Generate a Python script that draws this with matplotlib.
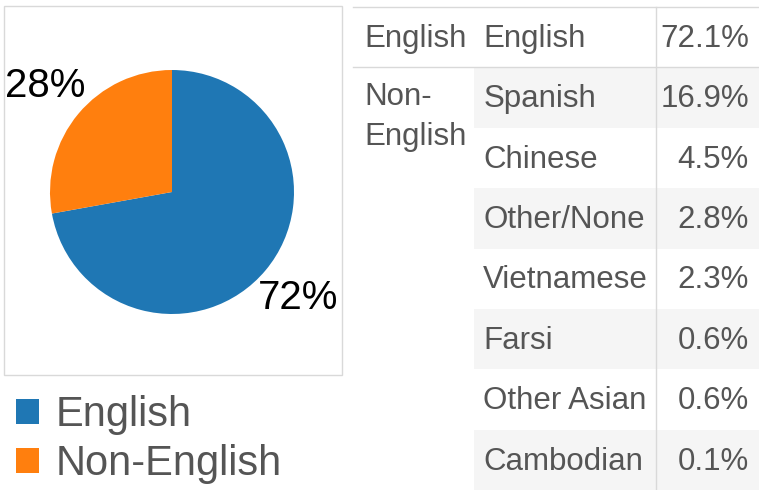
import matplotlib.pyplot as plt
from matplotlib.patches import Rectangle

plt.rcParams['font.family'] = ['Liberation Sans', 'DejaVu Sans']

# data
languages = ['English', 'Spanish', 'Chinese', 'Other/None', 'Vietnamese',
             'Farsi', 'Other Asian', 'Cambodian']
shares = [72.1, 16.9, 4.5, 2.8, 2.3, 0.6, 0.6, 0.1]
lang_group = ['English'] + ['Non-English'] * 7
groups = ['English', 'Non-English']
group_text = {'English': 'English', 'Non-English': 'Non-\nEnglish'}
colors = ['#1f77b4', '#ff7f0e']

group_vals = [sum(s for s, g in zip(shares, lang_group) if g == grp) for grp in groups]

W, H = 759, 490
fig = plt.figure(figsize=(W / 100, H / 100), dpi=100)


def px(x0, y0, w, h):
    return [x0 / W, 1 - (y0 + h) / H, w / W, h / H]


grey_line = '#d9d9d9'
txt_col = '#555555'

# box round the pie
fig.add_artist(Rectangle((4 / W, 1 - 375 / H), 338 / W, 369 / H,
                         transform=fig.transFigure, fill=False,
                         ec=grey_line, lw=1))

ax = fig.add_axes(px(172 - 122, 192 - 122, 244, 244))
wedges, texts, autotexts = ax.pie(group_vals, colors=colors, startangle=90,
                                  counterclock=False, autopct='%.0f%%',
                                  pctdistance=1.35,
                                  wedgeprops=dict(linewidth=0),
                                  textprops=dict(fontsize=29, color='black'))
ax.set_xlim(-1, 1)
ax.set_ylim(-1, 1)
ax.set_aspect('equal')

fig.legend(wedges, groups, loc='upper left',
           bbox_to_anchor=(16 / W, 1 - 395 / H), frameon=False,
           fontsize=30, labelcolor=txt_col, handlelength=0.56,
           handleheight=0.56, handletextpad=0.38, labelspacing=0.22,
           borderpad=0, borderaxespad=0)

# table
tax = fig.add_axes(px(353, 7, 406, 483))
n = len(languages)
tax.set_xlim(0, 1)
tax.set_ylim(n, 0)
tax.axis('off')
c1 = 121 / 406
c2 = 303 / 406

for i in range(n):
    if i % 2 == 1:
        tax.axhspan(i, i + 1, xmin=c1, xmax=1, color='#f5f5f5', lw=0)

tax.axhline(0, color=grey_line, lw=1, clip_on=False)
tax.axhline(1, color=grey_line, lw=1, clip_on=False)
tax.axvline(c2, color=grey_line, lw=1, clip_on=False)

prev = None
for i, (lang, val, grp) in enumerate(zip(languages, shares, lang_group)):
    if grp != prev:
        if '\n' in group_text[grp]:
            tax.text(0.028, i + 0.24, group_text[grp], fontsize=22.5,
                     color=txt_col, ha='left', va='top', linespacing=1.46)
        else:
            tax.text(0.028, i + 0.53, group_text[grp], fontsize=22.5,
                     color=txt_col, ha='left', va='center')
        prev = grp
    tax.text(0.321, i + 0.53, lang, fontsize=22.5, color=txt_col,
             ha='left', va='center')
    tax.text(0.975, i + 0.53, f'{val:.1f}%', fontsize=22.5, color=txt_col,
             ha='right', va='center')

fig.savefig('out.png', dpi=100)
